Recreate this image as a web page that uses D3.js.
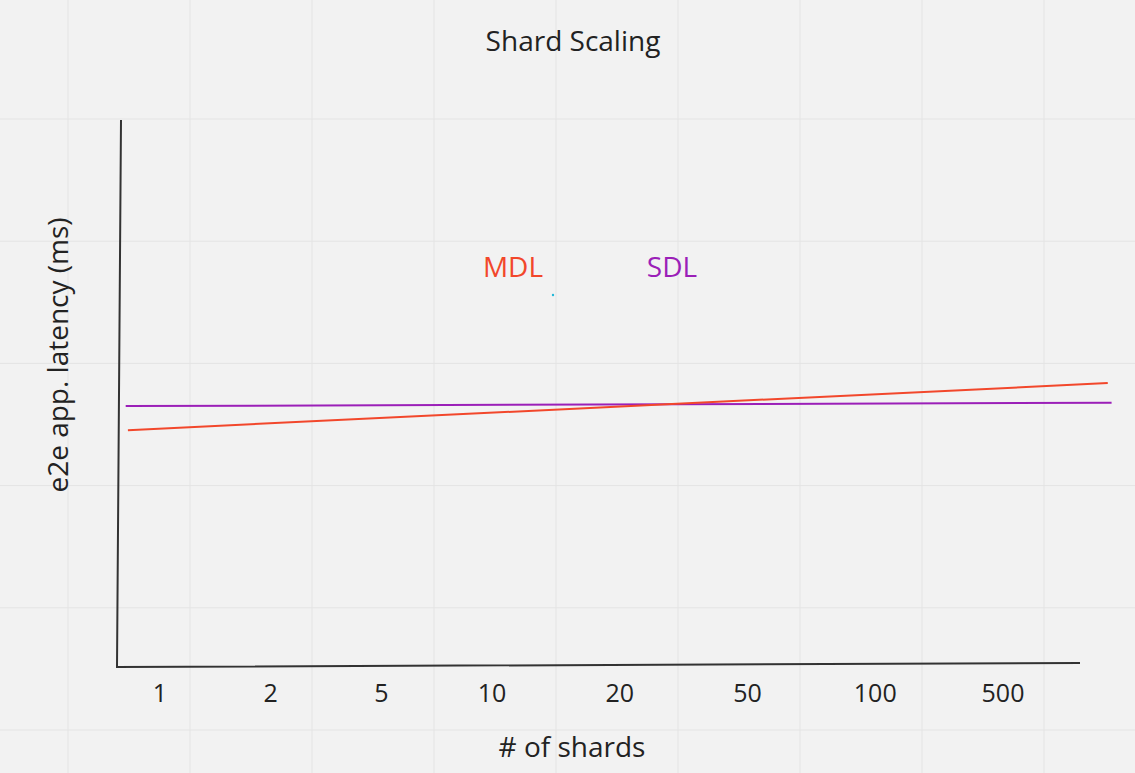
<!DOCTYPE html>
<html><head><meta charset="utf-8">
<script src="https://cdn.jsdelivr.net/npm/d3@7"></script>
<style>body{margin:0;background:#f2f2f2;} text{font-family:"Open Sans",sans-serif;fill:#222;}</style>
</head><body><div id="viz"></div>
<script>
// shards on x (category index), latency on y (arbitrary units 0..100)
var shardLabels = ["1","2","5","10","20","50","100","500"];
var sdlX = [-0.31, 7.85];
var mdlX = [-0.29, 7.82];
var mdl = [43.3, 51.9];
var sdl = [47.7, 48.3];

var W = 1135, H = 773;
var svg = d3.select("#viz").append("svg").attr("width", W).attr("height", H);
svg.append("rect").attr("width", W).attr("height", H).attr("fill", "#f2f2f2");

// background grid
var g = svg.append("g");
d3.range(9).forEach(function(i){
  g.append("line").attr("x1", 68 + i*122).attr("x2", 68 + i*122).attr("y1", 0).attr("y2", H)
   .attr("stroke", "#e4e4e4").attr("stroke-width", 1);
});
d3.range(6).forEach(function(i){
  g.append("line").attr("y1", 119 + i*122.2).attr("y2", 119 + i*122.2).attr("x1", 0).attr("x2", W)
   .attr("stroke", "#e4e4e4").attr("stroke-width", 1);
});

// ticks are not evenly spaced in the sketch: piecewise scale
var x = d3.scaleLinear().domain([0, 3, 7]).range([160, 492, 1003]);
var y = d3.scaleLinear().domain([0, 100]).range([667, 120]);

// hand-drawn axes
svg.append("path").attr("d", "M121,120 L117,667 L1080,663")
  .attr("fill", "none").attr("stroke", "#333").attr("stroke-width", 2);

svg.selectAll("text.tick").data(shardLabels).enter().append("text")
  .attr("class", "tick").attr("x", function(d, i){ return x(i); }).attr("y", 702)
  .attr("text-anchor", "middle").attr("font-size", 25).text(function(d){ return d; });

function line(xs, ys){
  return d3.line().x(function(d, i){ return x(xs[i]); }).y(function(d){ return y(d); })(ys);
}
svg.append("path").attr("d", line(sdlX, sdl)).attr("fill", "none").attr("stroke", "#9b1fb8").attr("stroke-width", 2);
svg.append("path").attr("d", line(mdlX, mdl)).attr("fill", "none").attr("stroke", "#f2472b").attr("stroke-width", 2);

svg.append("text").attr("x", 513).attr("y", 277).attr("text-anchor", "middle").attr("font-size", 28)
  .style("fill", "#f2472b").text("MDL");
svg.append("text").attr("x", 672).attr("y", 277).attr("text-anchor", "middle").attr("font-size", 28)
  .style("fill", "#9b1fb8").text("SDL");
svg.append("circle").attr("cx", 553).attr("cy", 295).attr("r", 1.2).attr("fill", "#22b8d8");

svg.append("text").attr("x", 573).attr("y", 51).attr("text-anchor", "middle").attr("font-size", 28).text("Shard Scaling");
svg.append("text").attr("x", 572).attr("y", 757).attr("text-anchor", "middle").attr("font-size", 28).text("# of shards");
svg.append("text").attr("transform", "translate(68,355) rotate(-90)").attr("text-anchor", "middle")
  .attr("font-size", 28).text("e2e app. latency (ms)");
</script></body></html>
